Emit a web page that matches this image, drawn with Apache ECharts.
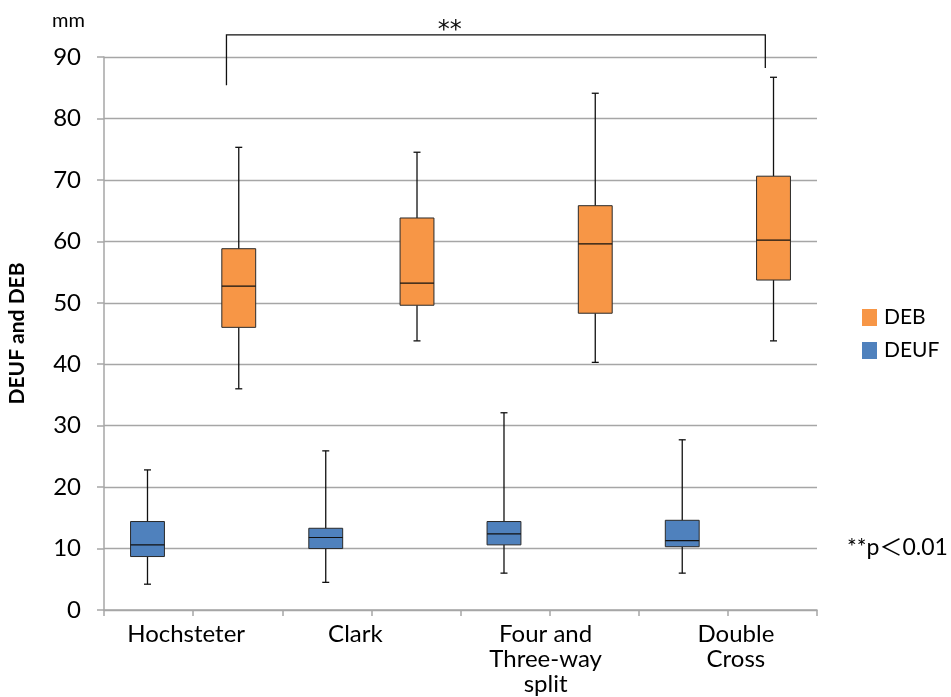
<!DOCTYPE html>
<html>
<head>
<meta charset="utf-8">
<script src="https://cdn.jsdelivr.net/npm/echarts@6/dist/echarts.min.js"></script>
<style>
  html, body { margin: 0; padding: 0; background: #fff; }
  #main { width: 951px; height: 697px; }
</style>
</head>
<body>
<div id="main"></div>
<script>
// categories and box values
var categories = ['Hochsteter', 'Clark', 'Four and\nThree-way\nsplit', 'Double\nCross'];

// [min, Q1, median, Q3, max]
var debBoxes = [
  [36.0, 46.0, 52.7, 58.8, 75.3],
  [43.8, 49.6, 53.2, 63.8, 74.5],
  [40.3, 48.3, 59.6, 65.8, 84.1],
  [43.8, 53.7, 60.2, 70.6, 86.7]
];
var deufBoxes = [
  [4.2, 8.7, 10.6, 14.4, 22.8],
  [4.5, 10.0, 11.8, 13.3, 25.9],
  [6.0, 10.6, 12.4, 14.4, 32.1],
  [6.0, 10.3, 11.3, 14.6, 27.7]
];

// significance bracket: from category, to category, left end, right end, top
var bracket = [0, 3, 85.4, 88.2, 93.6];
var sigLabel = '**';
var sigNote = '**p＜0.01';

var FONT = 'Lato, "Noto Sans CJK JP", sans-serif';
var GRAY = '#a6a6a6';

// small horizontal nudges of the category labels (px, + = right)
var labelShift = [-7, -16, -4, 8];

var myChart = echarts.init(document.getElementById('main'));

function toSeriesData(boxes) {
  var out = [];
  for (let i = 0; i < boxes.length; i++) {
    out.push([i].concat(boxes[i]));
  }
  return out;
}

// side: -1 left of category centre, +1 right
function boxRenderer(side, color) {
  return function (params, api) {
    var cat = api.value(0);
    var band = api.size([1, 0])[0];
    var x = api.coord([cat, 0])[0] + side * band * 0.256;
    var half = band * 0.095;
    var cap = 3.5;
    var yMin = api.coord([cat, api.value(1)])[1];
    var yQ1 = api.coord([cat, api.value(2)])[1];
    var yMed = api.coord([cat, api.value(3)])[1];
    var yQ3 = api.coord([cat, api.value(4)])[1];
    var yMax = api.coord([cat, api.value(5)])[1];
    var line = { stroke: '#111', lineWidth: 1.3 };
    return {
      type: 'group',
      children: [
        { type: 'line', shape: { x1: x, y1: yQ3, x2: x, y2: yMax }, style: line },
        { type: 'line', shape: { x1: x - cap, y1: yMax, x2: x + cap, y2: yMax }, style: line },
        { type: 'line', shape: { x1: x, y1: yQ1, x2: x, y2: yMin }, style: line },
        { type: 'line', shape: { x1: x - cap, y1: yMin, x2: x + cap, y2: yMin }, style: line },
        { type: 'rect', shape: { x: x - half, y: yQ3, width: half * 2, height: yQ1 - yQ3 },
          style: { fill: color, stroke: '#2a2a2a', lineWidth: 1 } },
        { type: 'line', shape: { x1: x - half, y1: yMed, x2: x + half, y2: yMed },
          style: { stroke: '#111', lineWidth: 1.2 } }
      ]
    };
  };
}

var tickSlots = [];
for (let i = 0; i < categories.length * 2; i++) tickSlots.push('');

var catData = [];
for (let i = 0; i < categories.length; i++) {
  var s = labelShift[i];
  catData.push({
    value: categories[i],
    textStyle: { padding: s < 0 ? [0, -2 * s, 0, 0] : [0, 0, 0, 2 * s] }
  });
}

var option = {
  animation: false,
  title: [
    { text: 'mm', left: 47, top: 6, textStyle: { fontFamily: FONT, fontSize: 20, fontWeight: 'normal', color: '#000' } },
    { text: sigNote, left: 842, top: 531, textStyle: { fontFamily: FONT, fontSize: 23, fontWeight: 'normal', color: '#000' } }
  ],
  legend: {
    data: ['DEB', 'DEUF'],
    orient: 'vertical',
    left: 857,
    top: 302,
    icon: 'rect',
    itemWidth: 15,
    itemHeight: 17,
    itemGap: 12,
    textStyle: { fontFamily: FONT, fontSize: 21, color: '#000', padding: [0, 0, 0, 2] }
  },
  grid: { left: 104, right: 134, top: 57, bottom: 87, containLabel: false, outerBoundsMode: 'none' },
  xAxis: [
    {
      type: 'category',
      data: catData,
      position: 'bottom',
      axisLine: { lineStyle: { color: GRAY, width: 1.5 } },
      axisTick: { show: false },
      axisLabel: { interval: 0, margin: 12, fontFamily: FONT, fontSize: 24, lineHeight: 25, color: '#000' },
      splitLine: { show: false }
    },
    {
      type: 'category',
      data: tickSlots,
      position: 'bottom',
      axisLine: { show: false },
      axisTick: { show: true, length: 6, lineStyle: { color: GRAY, width: 1.5 } },
      axisLabel: { show: false },
      splitLine: { show: false }
    }
  ],
  yAxis: {
    type: 'value',
    min: 0,
    max: 90,
    interval: 10,
    name: 'DEUF and DEB',
    nameLocation: 'middle',
    nameGap: 76,
    nameTextStyle: { fontFamily: FONT, fontSize: 21, fontWeight: 'bold', color: '#000' },
    axisLine: { show: true, lineStyle: { color: GRAY, width: 1.5 } },
    axisTick: { show: true, length: 7, lineStyle: { color: GRAY, width: 1.5 } },
    axisLabel: { margin: 23, fontFamily: FONT, fontSize: 24, color: '#000' },
    splitLine: { lineStyle: { color: GRAY, width: 1.3 } }
  },
  series: [
    {
      name: 'DEUF',
      type: 'custom',
      xAxisIndex: 0,
      itemStyle: { color: '#4F81BD' },
      encode: { x: 0, y: [1, 2, 3, 4, 5] },
      renderItem: boxRenderer(-1, '#4F81BD'),
      data: toSeriesData(deufBoxes)
    },
    {
      name: 'DEB',
      type: 'custom',
      xAxisIndex: 0,
      itemStyle: { color: '#F79646' },
      encode: { x: 0, y: [1, 2, 3, 4, 5] },
      renderItem: boxRenderer(1, '#F79646'),
      data: toSeriesData(debBoxes)
    },
    {
      name: 'bracket',
      type: 'custom',
      xAxisIndex: 0,
      clip: false,
      silent: true,
      encode: { x: [0, 1], y: [2, 3, 4] },
      renderItem: function (params, api) {
        var band = api.size([1, 0])[0];
        var xl = api.coord([api.value(0), 0])[0] + band * 0.187;
        var xr = api.coord([api.value(1), 0])[0] + band * 0.21;
        var yl = api.coord([0, api.value(2)])[1];
        var yr = api.coord([0, api.value(3)])[1];
        var yt = api.coord([0, api.value(4)])[1];
        var xs = api.coord([1, 0])[0] + band * 0.44;
        return {
          type: 'group',
          children: [
            { type: 'polyline', shape: { points: [[xl, yl], [xl, yt], [xr, yt], [xr, yr]] },
              style: { fill: null, stroke: '#111', lineWidth: 1.3 } },
            { type: 'text', x: xs, y: yt + 8,
              style: { text: sigLabel, fontFamily: 'DejaVu Sans, sans-serif', fontSize: 24, fontWeight: 'normal', fill: '#111',
                       align: 'center', verticalAlign: 'bottom' } }
          ]
        };
      },
      data: [bracket]
    }
  ]
};

myChart.setOption(option);
</script>
</body>
</html>
